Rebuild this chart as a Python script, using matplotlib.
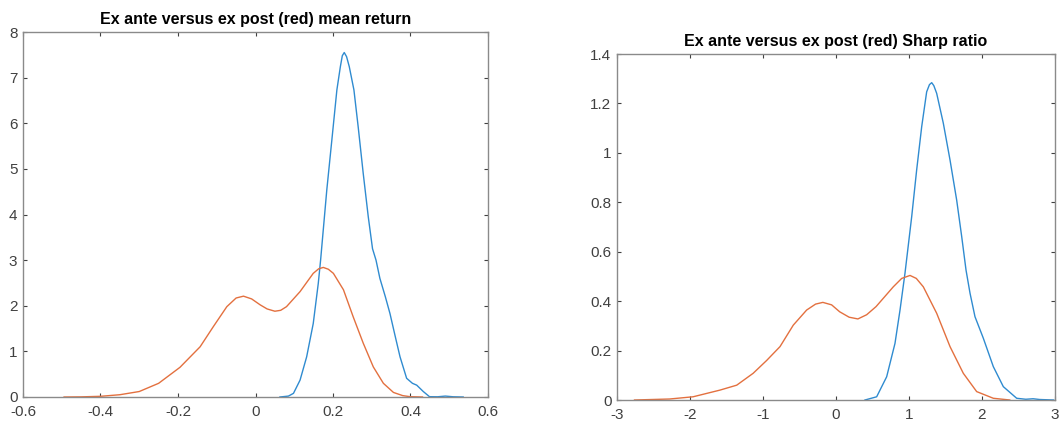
import numpy as np
import matplotlib
matplotlib.use('Agg')
import matplotlib.pyplot as plt

plt.rcParams['font.family'] = ['Liberation Sans', 'DejaVu Sans']
plt.rcParams['axes.unicode_minus'] = False

# Mean return densities
mr_post_x = [-0.494, -0.45, -0.40, -0.35, -0.30, -0.25, -0.195, -0.143, -0.109, -0.074,
             -0.05, -0.031, -0.01, 0.012, 0.030, 0.050, 0.065, 0.080, 0.115, 0.149,
             0.163, 0.175, 0.188, 0.201, 0.227, 0.252, 0.278, 0.304, 0.330, 0.356,
             0.38, 0.399, 0.431]
mr_post_y = [0, 0.003, 0.015, 0.05, 0.12, 0.30, 0.65, 1.10, 1.54, 1.98,
             2.17, 2.21, 2.15, 2.02, 1.93, 1.88, 1.90, 1.98, 2.31, 2.71,
             2.81, 2.84, 2.80, 2.71, 2.35, 1.76, 1.18, 0.66, 0.30, 0.10,
             0.03, 0.007, 0]
mr_ante_x = [0.063, 0.085, 0.098, 0.115, 0.132, 0.149, 0.162, 0.168, 0.184, 0.197,
             0.210, 0.219, 0.224, 0.229, 0.235, 0.242, 0.254, 0.265, 0.278, 0.291,
             0.302, 0.311, 0.321, 0.335, 0.347, 0.360, 0.373, 0.390, 0.405, 0.416,
             0.433, 0.449, 0.47, 0.49, 0.51, 0.536]
mr_ante_y = [0, 0.02, 0.08, 0.37, 0.88, 1.61, 2.49, 3.00, 4.54, 5.63,
             6.73, 7.24, 7.48, 7.55, 7.46, 7.24, 6.73, 5.92, 4.90, 3.95,
             3.25, 3.00, 2.60, 2.20, 1.83, 1.35, 0.88, 0.41, 0.30, 0.26,
             0.12, 0.007, 0.005, 0.02, 0.005, 0]

# Sharpe ratio densities
sr_post_x = [-2.76, -2.28, -1.958, -1.59, -1.36, -1.135, -0.95, -0.767, -0.585, -0.402,
             -0.28, -0.18, -0.06, 0.05, 0.18, 0.30, 0.42, 0.549, 0.785, 0.90,
             1.014, 1.10, 1.196, 1.379, 1.562, 1.744, 1.927, 2.155, 2.38]
sr_post_y = [0, 0.004, 0.013, 0.04, 0.06, 0.108, 0.16, 0.216, 0.303, 0.364,
             0.388, 0.395, 0.385, 0.357, 0.335, 0.328, 0.345, 0.378, 0.458, 0.492,
             0.504, 0.492, 0.458, 0.351, 0.216, 0.108, 0.034, 0.007, 0]
sr_ante_x = [0.397, 0.557, 0.694, 0.808, 0.877, 0.945, 1.037, 1.105, 1.174, 1.242,
             1.28, 1.311, 1.34, 1.379, 1.470, 1.562, 1.653, 1.722, 1.781, 1.836,
             1.904, 2.018, 2.155, 2.292, 2.475, 2.60, 2.70, 2.79, 2.98]
sr_ante_y = [0, 0.013, 0.094, 0.229, 0.364, 0.513, 0.742, 0.931, 1.106, 1.247,
             1.276, 1.284, 1.272, 1.241, 1.120, 0.971, 0.809, 0.661, 0.526, 0.432,
             0.337, 0.25, 0.135, 0.054, 0.007, 0.003, 0.005, 0.002, 0]

titles = ['Ex ante versus ex post (red) mean return',
          'Ex ante versus ex post (red) Sharp ratio']

blue = '#2f8bd0'
red = '#e3703f'

fig = plt.figure(figsize=(10.59, 4.26), dpi=100)
W, H = 1059, 426
ax1 = fig.add_axes([23/W, 1 - 397/H, 465/W, 365/H])
ax2 = fig.add_axes([617/W, 1 - 400/H, 438/W, 346/H])

ax1.plot(mr_ante_x, mr_ante_y, color=blue, lw=1)
ax1.plot(mr_post_x, mr_post_y, color=red, lw=1)
ax1.set_xlim(-0.6, 0.6)
ax1.set_ylim(0, 8)
ax1.set_xticks(np.arange(-0.6, 0.61, 0.2))
ax1.set_xticklabels(['-0.6', '-0.4', '-0.2', '0', '0.2', '0.4', '0.6'])
ax1.set_yticks(range(0, 9))

ax2.plot(sr_ante_x, sr_ante_y, color=blue, lw=1)
ax2.plot(sr_post_x, sr_post_y, color=red, lw=1)
ax2.set_xlim(-3, 3)
ax2.set_ylim(0, 1.4)
ax2.set_xticks(range(-3, 4))
ax2.set_yticks(np.arange(0, 1.41, 0.2))
ax2.set_yticklabels(['0', '0.2', '0.4', '0.6', '0.8', '1', '1.2', '1.4'])

for ax, t in zip([ax1, ax2], titles):
    ax.set_title(t, fontsize=11.5, fontweight='bold', pad=6, color='black')
    ax.tick_params(direction='in', length=3, width=0.8, top=True, right=True,
                   labelsize=11, colors='#404040')
    ax.tick_params(axis='x', pad=6)
    ax.tick_params(axis='y', pad=4)
    for s in ax.spines.values():
        s.set_color('#8a8a8a')
        s.set_linewidth(1)

fig.savefig('out.png', dpi=100)
